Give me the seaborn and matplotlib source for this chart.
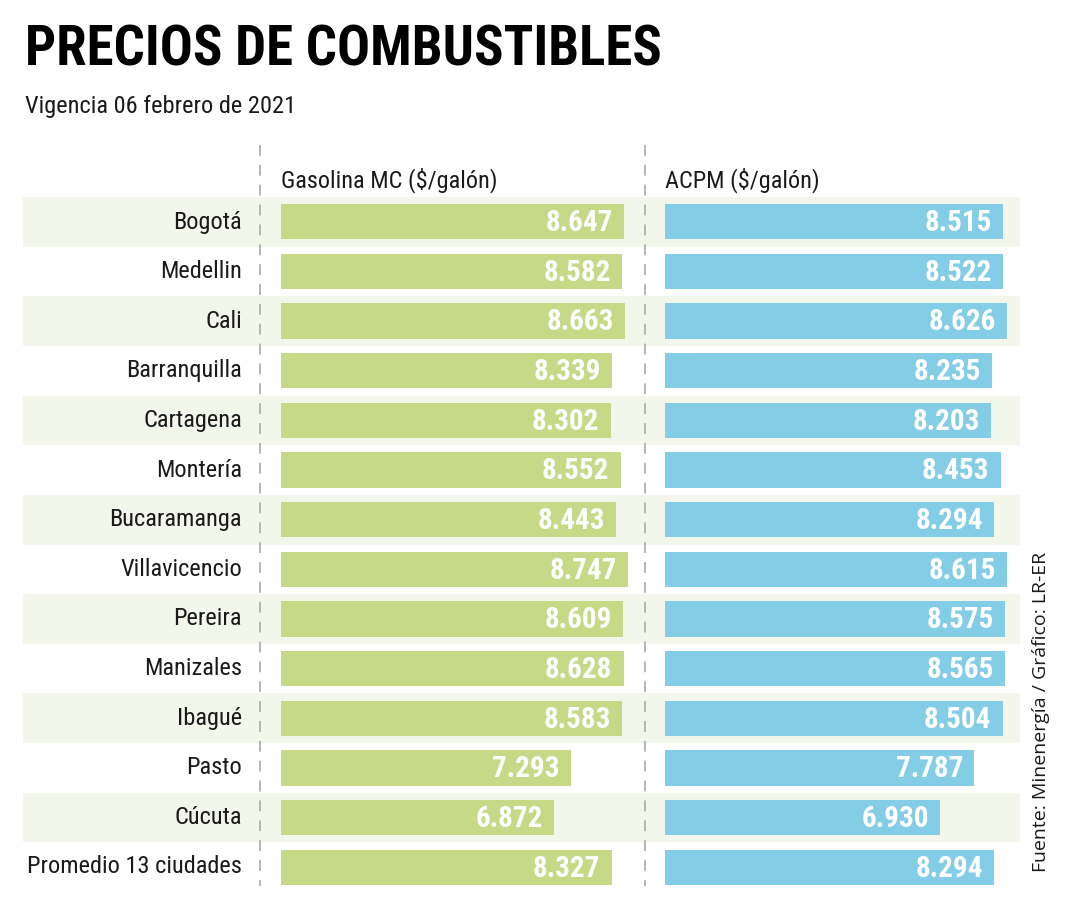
import pandas as pd
import matplotlib.pyplot as plt
import seaborn as sns

# -----------------------------
# Data
# -----------------------------
cities = ["Bogotá", "Medellin", "Cali", "Barranquilla", "Cartagena", "Montería",
          "Bucaramanga", "Villavicencio", "Pereira", "Manizales", "Ibagué",
          "Pasto", "Cúcuta", "Promedio 13 ciudades"]
gasolina = [8647, 8582, 8663, 8339, 8302, 8552, 8443, 8747, 8609, 8628, 8583,
            7293, 6872, 8327]
acpm = [8515, 8522, 8626, 8235, 8203, 8453, 8294, 8615, 8575, 8565, 8504,
        7787, 6930, 8294]

df = pd.DataFrame({"ciudad": cities, "gasolina": gasolina, "acpm": acpm})

sns.set_theme(style="white")
plt.rcParams["font.family"] = ["Roboto Condensed", "Liberation Sans", "DejaVu Sans"]

W, H = 1080, 900
fig = plt.figure(figsize=(W / 100, H / 100), dpi=100)

GREEN = "#c5d987"
BLUE = "#84cde6"
STRIPE = "#f2f6eb"
TXT = "#1a1a1a"
PX_PER_UNIT = 39.7 / 1000  # pixels per peso


def px_axes(x0, x1, y0, y1):
    # axes from pixel coords (top-left origin)
    return fig.add_axes([x0 / W, 1 - y1 / H, (x1 - x0) / W, (y1 - y0) / H])


top, bottom = 197, 892
n = len(cities)

# -----------------------------
# background stripes
# -----------------------------
bg = px_axes(23, 1020, top, bottom)
for i in range(0, n, 2):
    bg.axhspan(i - 0.5, i + 0.5, color=STRIPE, lw=0)
bg.set_ylim(n - 0.5, -0.5)
bg.set_xlim(0, 1)
bg.axis("off")

# city labels
for i, c in enumerate(cities):
    fig.text(242 / W, 1 - (222 + i * 49.6) / H, c, ha="right", va="center",
             fontsize=17.6, color=TXT)


def panel(x0, x1, col, color, header):
    ax = px_axes(x0, x1, top, bottom)
    ax.patch.set_alpha(0)
    sns.barplot(data=df, x=col, y="ciudad", color=color, orient="h",
                width=0.71, ax=ax, saturation=1, linewidth=0)
    ax.set_xlim(0, (x1 - x0) / PX_PER_UNIT)
    ax.set_ylim(n - 0.5, -0.5)
    ax.axis("off")
    for i, v in enumerate(df[col]):
        ax.annotate(f"{v:,}".replace(",", "."), (v, i), xytext=(-8, -1),
                    textcoords="offset points", ha="right", va="center",
                    fontsize=21, fontweight="bold", color="white")
    fig.text(x0 / W, 1 - 180 / H, header, ha="left", va="center",
             fontsize=17.5, color=TXT)
    return ax


panel(281, 645, "gasolina", GREEN, "Gasolina MC ($/galón)")
panel(665, 1020, "acpm", BLUE, "ACPM ($/galón)")

# dashed separators
for xp in (260, 645):
    fig.add_artist(plt.Line2D([xp / W, xp / W], [1 - 145 / H, 1 - 886 / H],
                              color="#b0b0b0", lw=1.3, ls=(0, (6, 5))))

# -----------------------------
# titles and source
# -----------------------------
fig.text(25 / W, 1 - 50 / H, "PRECIOS DE COMBUSTIBLES", ha="left",
         va="center", fontsize=39.5, fontweight="bold", color="black")
fig.text(25 / W, 1 - 106 / H, "Vigencia 06 febrero de 2021", ha="left",
         va="center", fontsize=17.6, color=TXT)

fig.text(1041 / W, 1 - 712 / H, "Fuente: Minenergía / Gráfico: LR-ER",
         rotation=90, ha="center", va="center", fontsize=14,
         color=TXT, family=["Open Sans", "DejaVu Sans"])

fig.savefig("out.png", dpi=100)
